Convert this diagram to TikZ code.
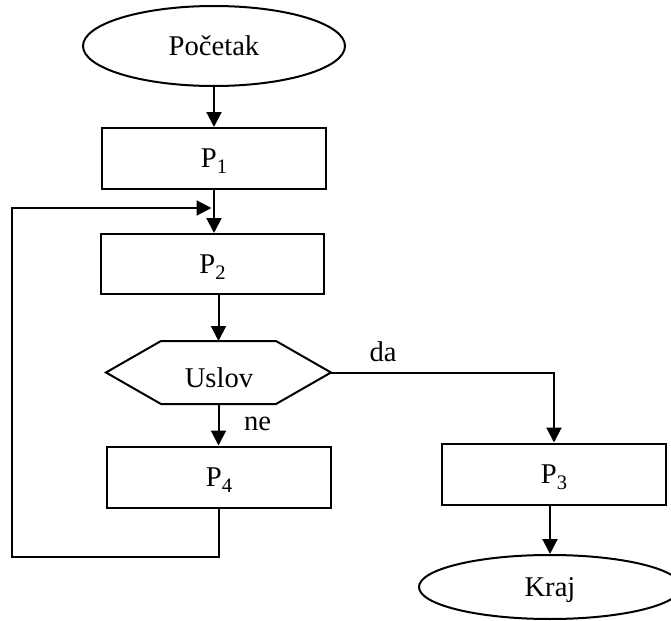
\documentclass[tikz,border=0pt]{standalone}
\usepackage{fontspec}
\setmainfont{Liberation Serif}
\usetikzlibrary{arrows.meta,shapes.geometric,calc}
% P with a lowered, smaller index
\newcommand{\Psub}[1]{P\raisebox{-2.9pt}{\fontsize{10.3}{12}\selectfont #1}}
\begin{document}
\begin{tikzpicture}[x=0.5pt,y=-0.5pt,
  font=\fontsize{14.3}{17}\selectfont,
  line width=1pt,
  arr/.style={-{Triangle[length=7.5pt,width=7.5pt]}},
  procbox/.style={draw, rectangle, inner sep=0pt, minimum width=112pt,
                  minimum height=30.5pt, text depth=0pt},
  terminal/.style={draw, ellipse, inner sep=0pt, minimum width=131pt, text depth=0pt},
  hexhold/.style={rectangle, inner sep=0pt, minimum width=111.5pt, minimum height=30.5pt},
  lbl/.style={anchor=base, inner sep=0pt}]
\useasboundingbox (0,0) rectangle (671,621);
\clip (0,0) rectangle (671,621);

% terminals and process boxes
\node[terminal, minimum height=40pt] (start) at (214,46) {Početak};
\node[procbox] (p1) at (214,158.5) {\Psub{1}};
\node[procbox, minimum width=111.5pt, minimum height=30pt] (p2) at (212.5,264) {\Psub{2}};
\node[procbox] (p4) at (219,477) {\Psub{4}};
\node[procbox] (p3) at (554,474) {\Psub{3}};
\node[terminal, minimum height=32pt] (kraj) at (550,587) {Kraj};

% decision hexagon
\node[hexhold] (hex) at (218.5,372.5) {};
\draw (hex.west) -- ($(hex.north west)+(55,0)$) -- ($(hex.north east)+(-55,0)$)
  -- (hex.east) -- ($(hex.south east)+(-55,0)$) -- ($(hex.south west)+(55,0)$) -- cycle;
\node[lbl] (uslov) at (219,387) {Uslov};

% branch labels
\node[lbl] (da) at (383,361) {da};
\node[lbl] (ne) at (257.5,430) {ne};

% loop corners
\coordinate (loopbl) at (12,557);
\coordinate (looptl) at (12,208);

% connectors
\draw[arr] (start) -- (p1);
\draw[arr] (p1.south) -- (p1.south |- p2.north);
\draw[arr] (hex.north |- p2.south) -- (hex.north);
\draw[arr] (hex.south) -- (hex.south |- p4.north);
\draw[arr] (hex.east) -| (p3.north);
\draw[arr] (kraj.north |- p3.south) -- (kraj.north);
\draw[arr, shorten >=1.25pt] (p4.south) |- (loopbl) -- (looptl) -- (looptl -| p1.south);
\end{tikzpicture}
\end{document}
